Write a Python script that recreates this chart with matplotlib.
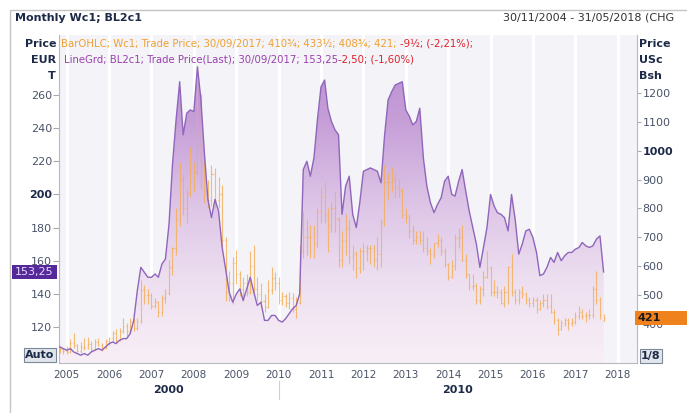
import numpy as np
import pandas as pd
import matplotlib
matplotlib.use("Agg")
import matplotlib.pyplot as plt
import matplotlib.dates as mdates
from matplotlib.colors import LinearSegmentedColormap
from matplotlib.patches import Rectangle
from matplotlib.lines import Line2D

plt.rcParams['font.family'] = ['DejaVu Sans']

# ---------------- data ----------------
months = pd.date_range("2004-11-01", "2017-09-01", freq="MS")

# BL2c1 (EUR/T), monthly last
bl2c1 = [
    108, 107,                                                    # 2004
    106, 107, 105, 104, 103, 104, 103, 105, 106, 107, 106, 108,  # 2005
    110, 111, 110, 112, 113, 113, 116, 124, 142, 156, 153, 150,  # 2006
    150, 152, 150, 158, 161, 182, 218, 245, 268, 236, 249, 251,  # 2007
    250, 277, 258, 225, 197, 186, 197, 190, 168, 155, 141, 135,  # 2008
    140, 143, 136, 143, 150, 141, 133, 135, 124, 124, 127, 127,  # 2009
    124, 123, 125, 128, 131, 133, 140, 215, 220, 211, 222, 245,  # 2010
    265, 269, 252, 244, 239, 236, 188, 205, 211, 188, 180, 195,  # 2011
    214, 215, 216, 215, 214, 207, 235, 257, 262, 266, 267, 268,  # 2012
    251, 247, 242, 244, 252, 222, 205, 195, 189, 194, 198, 208,  # 2013
    211, 200, 199, 208, 215, 202, 190, 180, 170, 156, 168, 180,  # 2014
    200, 193, 189, 188, 186, 178, 200, 185, 164, 170, 178, 179,  # 2015
    174, 165, 151, 152, 156, 162, 159, 165, 160, 163, 165, 165,  # 2016
    167, 168, 171, 169, 168, 169, 173, 175, 153.25,              # 2017
]

# Wc1 monthly OHLC (USc/Bsh)
wc1_open = [
    306, 312,
    307, 301, 335, 326, 306, 321, 318, 330, 314, 336, 328, 320,
    341, 350, 369, 345, 376, 394, 374, 410, 385, 410, 516, 501,
    499, 461, 476, 441, 491, 506, 596, 662, 761, 902, 801, 852,
    889, 926, 1062, 952, 860, 830, 920, 830, 850, 690, 510, 540,
    610, 572, 522, 540, 512, 602, 522, 502, 480, 460, 516, 560,
    542, 482, 496, 471, 491, 452, 472, 652, 702, 702, 702, 682,
    792, 842, 782, 742, 802, 762, 622, 692, 732, 632, 642, 592,
    652, 652, 662, 662, 622, 642, 752, 892, 892, 902, 872, 862,
    778, 772, 722, 692, 702, 692, 662, 652, 642, 682, 692, 652,
    606, 562, 602, 698, 702, 622, 572, 532, 532, 482, 522, 562,
    592, 512, 512, 512, 472, 512, 598, 512, 482, 512, 502, 482,
    472, 482, 452, 472, 482, 462, 442, 412, 382, 402, 412, 402,
    408, 428, 442, 428, 432, 432, 522, 482, 410.75,
]
wc1_high = [
    322, 318,
    322, 348, 368, 332, 336, 352, 353, 340, 346, 352, 334, 346,
    356, 377, 381, 386, 421, 404, 421, 419, 421, 552, 536, 522,
    506, 491, 481, 501, 521, 622, 667, 803, 962, 921, 872, 1012,
    962, 1290, 1198, 975, 900, 950, 940, 910, 880, 700, 582, 632,
    655, 582, 562, 572, 652, 672, 562, 542, 502, 552, 597, 580,
    562, 512, 502, 511, 506, 492, 672, 792, 762, 742, 742, 802,
    872, 892, 802, 822, 862, 772, 722, 782, 762, 672, 652, 662,
    682, 672, 672, 672, 702, 762, 952, 922, 942, 922, 902, 872,
    802, 782, 742, 722, 722, 722, 702, 662, 682, 712, 702, 662,
    612, 622, 712, 732, 742, 642, 572, 572, 542, 532, 582, 652,
    602, 552, 532, 522, 532, 602, 642, 522, 522, 532, 512, 492,
    492, 492, 482, 502, 502, 502, 452, 422, 412, 422, 422, 422,
    442, 462, 452, 442, 452, 532, 582, 492, 433.5,
]
wc1_low = [
    298, 297,
    296, 299, 318, 301, 300, 309, 314, 304, 310, 324, 306, 314,
    326, 340, 334, 339, 369, 358, 369, 374, 379, 404, 469, 468,
    453, 454, 424, 429, 474, 499, 569, 638, 739, 778, 748, 838,
    858, 918, 868, 820, 800, 810, 800, 800, 660, 478, 478, 468,
    538, 498, 478, 498, 502, 508, 478, 468, 440, 455, 505, 518,
    470, 465, 460, 450, 440, 420, 468, 628, 638, 630, 630, 668,
    748, 748, 648, 718, 718, 598, 598, 638, 608, 588, 558, 578,
    588, 618, 608, 598, 588, 598, 738, 828, 858, 838, 838, 768,
    748, 698, 678, 678, 678, 648, 638, 608, 628, 668, 638, 598,
    552, 558, 588, 662, 618, 558, 518, 518, 468, 468, 498, 558,
    498, 498, 488, 468, 458, 468, 498, 468, 468, 488, 468, 458,
    458, 438, 448, 458, 452, 438, 398, 362, 378, 392, 378, 392,
    398, 418, 418, 408, 418, 422, 468, 418, 408.75,
]
wc1_close = [
    312, 307,
    301, 335, 326, 306, 321, 318, 330, 314, 336, 328, 320, 341,
    350, 369, 345, 376, 394, 374, 410, 385, 410, 516, 501, 499,
    461, 476, 441, 491, 506, 596, 662, 761, 902, 801, 852, 889,
    926, 1062, 952, 860, 830, 920, 830, 850, 690, 510, 540, 610,
    572, 522, 540, 512, 602, 522, 502, 480, 460, 516, 560, 542,
    482, 496, 471, 491, 452, 472, 652, 702, 702, 702, 682, 792,
    842, 782, 742, 802, 762, 622, 692, 732, 632, 642, 592, 652,
    652, 662, 662, 622, 642, 752, 892, 892, 902, 872, 862, 778,
    772, 722, 692, 702, 692, 662, 652, 642, 682, 692, 652, 606,
    562, 602, 698, 702, 622, 572, 532, 532, 482, 522, 562, 592,
    512, 512, 512, 472, 512, 598, 512, 482, 512, 502, 482, 472,
    482, 452, 472, 482, 462, 442, 412, 382, 402, 412, 402, 408,
    428, 442, 428, 432, 432, 522, 482, 430.5, 421,
]

left_ticks = [120, 140, 160, 180, 200, 220, 240, 260]
right_ticks = [400, 500, 600, 700, 800, 900, 1000, 1100, 1200]
year_ticks = list(range(2005, 2019))
last_bl = 153.25
last_wc = 421

# ---------------- styling ----------------
W, H = 687, 413
NAVY = '#1c2a48'
TICKC = '#4a5468'
ORANGE = '#f5ad55'
PURPLE_LINE = '#8f66bb'
RED = '#e0202a'

fig = plt.figure(figsize=(W / 100, H / 100), dpi=100)
fig.patch.set_facecolor('white')


def fx(px):
    return px / W


def fy(py):
    return 1 - py / H


rect = [fx(59), fy(363), fx(637) - fx(59), fy(35) - fy(363)]
ax_l = fig.add_axes(rect)
ax_r = ax_l.twinx()
ax_top = ax_l.twinx()

xlim = (pd.Timestamp('2004-10-26'), pd.Timestamp('2018-06-16'))
ylim_l = (98.3, 296.2)
ylim_r = (264.5, 1401.0)

ax_l.set_facecolor('#f3f3f8')
for yr in year_ticks:
    ax_l.axvline(pd.Timestamp(f'{yr}-01-01'), color='white', lw=2.2, zorder=0.6)

# gradient fill under BL2c1
poly = ax_l.fill_between(months, bl2c1, ylim_l[0], facecolor='none', edgecolor='none')
xn = mdates.date2num(list(xlim))
grad = np.linspace(0, 1, 256).reshape(-1, 1)
cmap = LinearSegmentedColormap.from_list(
    'fillgrad', ['#f8eff6', '#eddff0', '#dcc3e6', '#c59dd7', '#b98fd0'])
im = ax_l.imshow(grad, extent=[xn[0], xn[1], ylim_l[0], ylim_l[1]], origin='lower',
                 aspect='auto', cmap=cmap, zorder=1, interpolation='bilinear')
im.set_clip_path(poly.get_paths()[0], transform=ax_l.transData)

ax_l.set_xlim(*xlim)
ax_l.set_ylim(*ylim_l)

# OHLC bars for Wc1
off = pd.Timedelta(days=9)
ax_r.vlines(months, wc1_low, wc1_high, color=ORANGE, lw=0.8, alpha=0.8)
ax_r.hlines(wc1_open, months - off, months, color=ORANGE, lw=0.8, alpha=0.8)
ax_r.hlines(wc1_close, months, months + off, color=ORANGE, lw=0.8, alpha=0.8)
ax_r.set_ylim(*ylim_r)

# BL2c1 line on top
ax_top.plot(months, bl2c1, color=PURPLE_LINE, lw=1.0)
ax_top.set_ylim(*ylim_l)
ax_top.set_yticks([])
for s in ax_top.spines.values():
    s.set_visible(False)

ax_l.set_xlim(*xlim)

# ticks
ax_l.set_yticks(left_ticks, [str(v) for v in left_ticks])
ax_l.tick_params(axis='y', direction='out', length=4, color='#a8a8b0',
                 labelsize=8, labelcolor=TICKC, pad=1)
for lbl in ax_l.get_yticklabels():
    if lbl.get_text() == '200':
        lbl.set_fontweight('bold')
        lbl.set_color(NAVY)

ax_r.set_yticks(right_ticks, [str(v) for v in right_ticks])
ax_r.tick_params(axis='y', direction='out', length=3, color='#a8a8b0',
                 labelsize=8, labelcolor=TICKC, pad=1)
for lbl in ax_r.get_yticklabels():
    if lbl.get_text() == '1000':
        lbl.set_fontweight('bold')
        lbl.set_color(NAVY)

ax_l.set_xticks([pd.Timestamp(f'{y}-01-01') for y in year_ticks],
                [str(y) for y in year_ticks])
ax_l.tick_params(axis='x', length=0, labelsize=7.5, labelcolor=TICKC, pad=5)

for ax in (ax_l, ax_r):
    for s in ax.spines.values():
        s.set_color('#b8b8c2')
        s.set_linewidth(0.8)
ax_l.spines['top'].set_visible(False)
ax_l.spines['right'].set_visible(False)
ax_r.spines['top'].set_visible(False)
ax_r.spines['left'].set_visible(False)
ax_r.spines['bottom'].set_visible(False)

# ---------------- overlay (pixel coords) ----------------
ov = fig.add_axes([0, 0, 1, 1])
ov.set_xlim(0, W)
ov.set_ylim(H, 0)
ov.axis('off')

ov.add_patch(Rectangle((10, 10), 720, 440, fill=False, ec='#c4c4c4', lw=1))

ov.text(15, 18, 'Monthly Wc1; BL2c1', fontsize=8, fontweight='bold', color=NAVY,
        ha='left', va='center')
ov.text(503, 18, '30/11/2004 - 31/05/2018 (CHG', fontsize=8, color='#333333',
        ha='left', va='center', clip_on=False)

ov.text(56, 44, 'Price', fontsize=8, fontweight='bold', color=NAVY, ha='right', va='center')
ov.text(56, 60, 'EUR', fontsize=8, fontweight='bold', color=NAVY, ha='right', va='center')
ov.text(56, 76, 'T', fontsize=8, fontweight='bold', color=NAVY, ha='right', va='center')
ov.text(639, 44, 'Price', fontsize=8, fontweight='bold', color=NAVY, ha='left', va='center')
ov.text(639, 60, 'USc', fontsize=8, fontweight='bold', color=NAVY, ha='left', va='center')
ov.text(639, 76, 'Bsh', fontsize=8, fontweight='bold', color=NAVY, ha='left', va='center')

t1 = ov.text(61, 44, 'BarOHLC; Wc1; Trade Price; 30/09/2017; 410\u00be; 433\u00bd; 408\u00be; 421; ',
             fontsize=7.3, color='#f0a030', ha='left', va='center')
ov.annotate('-9\u00bd; (-2,21%);', xy=(1, 0), xycoords=t1, fontsize=7.3, color=RED,
            ha='left', va='bottom')
t2 = ov.text(64, 60, 'LineGrd; BL2c1; Trade Price(Last); 30/09/2017; 153,25',
             fontsize=7.3, color='#9a3fae', ha='left', va='center')
ov.annotate('-2,50; (-1,60%)', xy=(1, 0), xycoords=t2, fontsize=7.3, color=RED,
            ha='left', va='bottom')

# last value boxes
py_bl = H - ax_l.transData.transform((0, last_bl))[1]
ov.add_patch(Rectangle((12, py_bl - 7), 45, 14, fc='#55299a', ec='none'))
ov.text(34.5, py_bl, f'{last_bl:.2f}'.replace('.', ','), fontsize=8, color='#e6dcff',
        ha='center', va='center')

py_wc = H - ax_r.transData.transform((0, last_wc))[1]
ov.add_patch(Rectangle((635, py_wc - 7), 60, 14, fc='#f0821e', ec='none'))
ov.text(638, py_wc, str(last_wc), fontsize=8, fontweight='bold', color='#1a1a1a',
        ha='left', va='center')

ov.text(40, 355, 'Auto', fontsize=8, fontweight='bold', color=NAVY, ha='center', va='center',
        bbox=dict(boxstyle='square,pad=0.15', fc='#e2e6ec', ec='#7a8898', lw=0.8))
ov.text(651, 356, '1/8', fontsize=8, fontweight='bold', color=NAVY, ha='center', va='center',
        bbox=dict(boxstyle='square,pad=0.15', fc='#e2e6ec', ec='#7a8898', lw=0.8))

# decade labels
x2010 = ax_l.transData.transform((mdates.date2num(pd.Timestamp('2010-01-01')), 0))[0]
xl0 = ax_l.transData.transform((mdates.date2num(xlim[0]), 0))[0]
xl1 = ax_l.transData.transform((mdates.date2num(xlim[1]), 0))[0]
ov.text((xl0 + x2010) / 2, 390, '2000', fontsize=8, fontweight='bold', color=NAVY,
        ha='center', va='center')
ov.text((x2010 + xl1) / 2, 390, '2010', fontsize=8, fontweight='bold', color=NAVY,
        ha='center', va='center')
ov.add_line(Line2D([x2010, x2010], [381, 399], color='#cfcfcf', lw=0.8))

fig.savefig('out.png', dpi=100, facecolor='white')
